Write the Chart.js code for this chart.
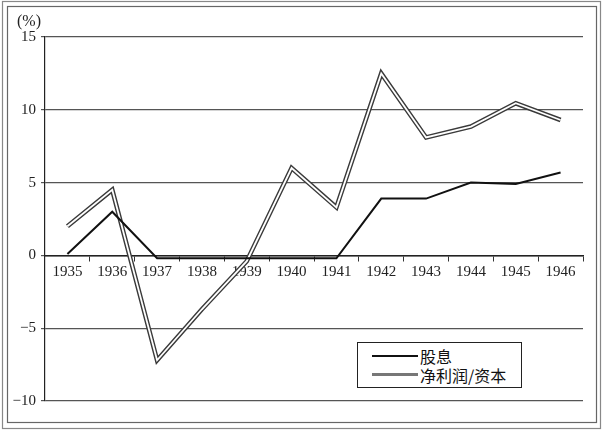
<!DOCTYPE html>
<html><head><meta charset="utf-8">
<script src="https://cdn.jsdelivr.net/npm/chart.js@4"></script>
<style>
html,body{margin:0;padding:0;background:#fff;}
#wrap{position:relative;width:602px;height:430px;overflow:hidden;}
#c{position:absolute;left:0;top:0;}
.pct{position:absolute;left:17px;top:12px;font:16px "Liberation Serif",serif;color:#222;line-height:18px;}
.legend{position:absolute;left:357px;top:342px;width:165px;height:46px;border:1px solid #222;box-sizing:border-box;background:#fff;}
.row{position:absolute;left:14px;height:20px;}
.row .sw{position:absolute;left:0;width:46px;}
.row .tx{position:absolute;left:48px;top:0;font:16px "Noto Sans CJK SC",sans-serif;line-height:20px;white-space:nowrap;color:#111;}
</style></head>
<body>
<div id="wrap">
<canvas id="c" width="602" height="430"></canvas>
<div class="pct">(%)</div>
<div class="legend">
  <div class="row" style="top:3px"><div class="sw" style="top:9px;height:2px;background:#111"></div><div class="tx" id="l0"></div></div>
  <div class="row" style="top:22px"><div class="sw" style="top:8px;height:3px;background:#777"></div><div class="tx" id="l1"></div></div>
</div>
</div>
<script>
const categories = ['1935','1936','1937','1938','1939','1940','1941','1942','1943','1944','1945','1946'];
const seriesNames = ['股息','净利润/资本'];
const dividends = [0.1, 3.0, -0.2, -0.2, -0.2, -0.2, -0.2, 3.9, 3.9, 5.0, 4.9, 5.7];
const profitRate = [2.0, 4.5, -7.2, -3.7, -0.4, 6.0, 3.3, 12.5, 8.1, 8.85, 10.45, 9.3];
const yTicks = [-10, -5, 0, 5, 10, 15];

document.getElementById('l0').textContent = seriesNames[0];
document.getElementById('l1').textContent = seriesNames[1];

const framePlugin = {
  id: 'frame',
  beforeDraw(chart) {
    const ctx = chart.ctx;
    ctx.save();
    ctx.fillStyle = '#fff';
    ctx.fillRect(0, 0, chart.width, chart.height);
    ctx.lineWidth = 1.2;
    ctx.strokeStyle = '#888';
    ctx.strokeRect(2.5, 1.5, 598, 427);
    ctx.strokeStyle = '#666';
    ctx.strokeRect(7.5, 6.5, 589, 416);
    ctx.restore();
  }
};

new Chart(document.getElementById('c'), {
  type: 'line',
  data: {
    labels: categories,
    datasets: [
      { label: seriesNames[0], data: dividends, borderColor: '#111', borderWidth: 2, pointRadius: 0, tension: 0, order: 0 },
      { label: seriesNames[1] + ' inner', data: profitRate, borderColor: '#fff', borderWidth: 1.8, pointRadius: 0, tension: 0, order: 1 },
      { label: seriesNames[1], data: profitRate, borderColor: '#3a3a3a', borderWidth: 4.6, pointRadius: 0, tension: 0, order: 2 }
    ]
  },
  options: {
    responsive: false,
    animation: false,
    devicePixelRatio: 1,
    layout: { padding: { left: 0, right: 19, top: 37, bottom: 29 } },
    plugins: { legend: { display: false }, tooltip: { enabled: false } },
    scales: {
      x: {
        type: 'category',
        position: { y: 0 },
        offset: true,
        grid: { offset: true, drawOnChartArea: false, drawTicks: true, tickLength: 5, color: '#333', lineWidth: 1 },
        border: { color: '#222', width: 1.5 },
        ticks: { color: '#222', font: { family: 'Liberation Serif', size: 15 }, padding: 3, maxRotation: 0, autoSkip: false }
      },
      y: {
        min: -10, max: 15,
        afterFit(scale) { scale.width = 45; },
        afterBuildTicks(scale) { scale.ticks = yTicks.map(v => ({ value: v })); },
        grid: { color: '#555', lineWidth: 1.2, tickLength: 4, drawTicks: true },
        border: { color: '#222', width: 1.2 },
        ticks: {
          color: '#222', font: { family: 'Liberation Serif', size: 15 }, padding: 5,
          callback: v => (v < 0 ? '\u2212' + Math.abs(v) : String(v))
        }
      }
    }
  },
  plugins: [framePlugin]
});
</script>
</body></html>
